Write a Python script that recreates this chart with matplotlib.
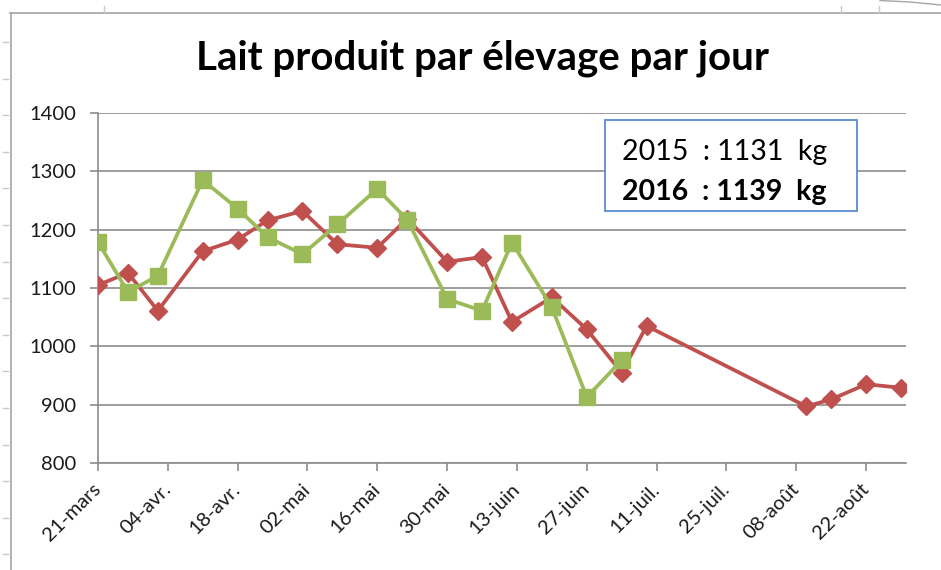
import numpy as np
import matplotlib
matplotlib.use("Agg")
import matplotlib.pyplot as plt
from matplotlib.lines import Line2D
from matplotlib.patches import Rectangle

plt.rcParams['font.family'] = ['Lato', 'DejaVu Sans']

# dates des pesées (axe de dates, année arbitraire)
dates_rouge = np.array(['2016-03-21', '2016-03-27', '2016-04-02', '2016-04-11', '2016-04-18',
                        '2016-04-24', '2016-05-01', '2016-05-08', '2016-05-16', '2016-05-22',
                        '2016-05-30', '2016-06-06', '2016-06-12', '2016-06-20', '2016-06-27',
                        '2016-07-04', '2016-07-09', '2016-08-10', '2016-08-15', '2016-08-22',
                        '2016-08-29'], dtype='datetime64[D]')
lait_rouge = [1105, 1126, 1061, 1163, 1183, 1216, 1232, 1175, 1169, 1219,
              1145, 1153, 1042, 1084, 1029, 955, 1035, 897, 909, 935, 929]

dates_vert = dates_rouge[:16]
lait_vert = [1179, 1093, 1121, 1285, 1236, 1187, 1158, 1209, 1270, 1217,
             1081, 1061, 1178, 1067, 913, 976]

tick_labels = ['21-mars', '04-avr.', '18-avr.', '02-mai', '16-mai', '30-mai',
               '13-juin', '27-juin', '11-juil.', '25-juil.', '08-août', '22-août']
y_ticks = [800, 900, 1000, 1100, 1200, 1300, 1400]

rouge = '#C0504D'
vert = '#9BBB59'
gris = '#8C8C8C'

fig = plt.figure(figsize=(9.41, 5.70), dpi=100)
ax = fig.add_axes([98/941, 1-463/570, 808/941, 350/570])

ax.plot(dates_rouge, lait_rouge, color=rouge, lw=2.7, marker='D', ms=9.5,
        markeredgecolor=rouge, zorder=3)
ax.plot(dates_vert, lait_vert, color=vert, lw=2.7, marker='s', ms=11.5,
        markeredgecolor=vert, zorder=4)

start = dates_rouge[0]
ax.set_xlim(start, start + np.timedelta64(162, 'D'))
ax.set_ylim(800, 1400)
ax.set_yticks(y_ticks)
ax.set_yticklabels([str(v) for v in y_ticks], fontsize=14.5)

ticks = start + np.arange(len(tick_labels)) * np.timedelta64(14, 'D')
ax.set_xticks(ticks)
ax.set_xticklabels(tick_labels, rotation=45, ha='right', va='center',
                   rotation_mode='anchor', fontsize=14.5)

ax.grid(axis='y', color=gris, lw=1.2)
ax.set_axisbelow(True)
for s in ['top', 'right']:
    ax.spines[s].set_visible(False)
for s in ['left', 'bottom']:
    ax.spines[s].set_color(gris)
    ax.spines[s].set_linewidth(1.2)
ax.tick_params(axis='both', color=gris, width=1.2, length=6, labelcolor='#1a1a1a')
ax.tick_params(axis='y', pad=10)
ax.tick_params(axis='x', pad=11)

fig.text(483/941, 1-58/570, 'Lait produit par élevage par jour', ha='center', va='center',
         fontsize=29, fontweight='bold', color='black')

# encadré des moyennes
fig.patches.append(Rectangle((605/941, 1-211/570), 252/941, 91/570, transform=fig.transFigure,
                             facecolor='white', edgecolor='#5B8BD0', lw=1.3, zorder=5))
fig.text(622/941, 1-152/570, '2015  : 1131  kg', ha='left', va='center', fontsize=20.5, zorder=6)
fig.text(622/941, 1-192/570, '2016  : 1139  kg', ha='left', va='center', fontsize=20.5,
         fontweight='bold', zorder=6)

# cadre du graphique
fig.add_artist(Line2D([10/941, 1], [1-13/570, 1-13/570], color='#A6A6A6', lw=1.2))
fig.add_artist(Line2D([11/941, 11/941], [0, 1-13/570], color='#A6A6A6', lw=1.2))
for yy in np.arange(42, 570, 36.6):
    fig.add_artist(Line2D([3/941, 8/941], [1-yy/570, 1-yy/570], color='#C8C8C8', lw=1))
for xx in [104, 841, 879]:
    fig.add_artist(Line2D([xx/941, xx/941], [1-6/570, 1-12/570], color='#C8C8C8', lw=1))
fig.add_artist(Line2D([880/941, 910/941, 941/941], [1-0.5/570, 1-2/570, 1-5/570], color='#A6A6A6', lw=1))

fig.savefig('out.png', dpi=100)
